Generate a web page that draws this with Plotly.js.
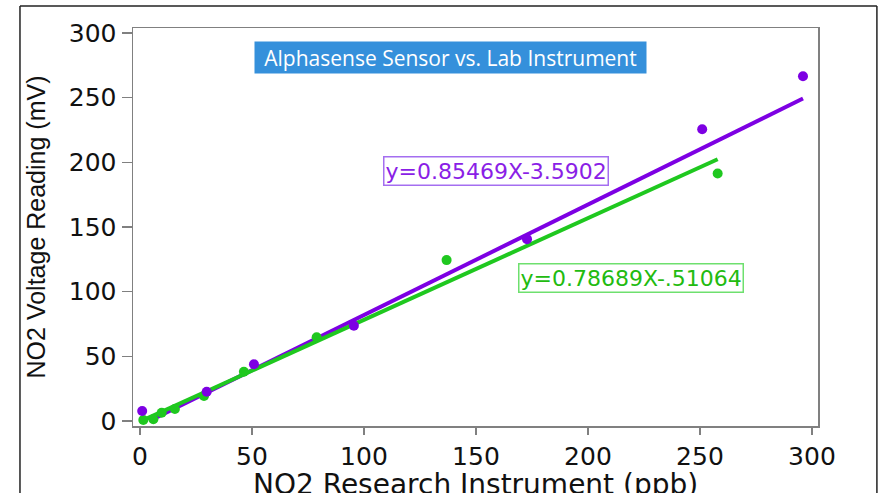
<!DOCTYPE html>
<html>
<head>
<meta charset="utf-8">
<script src="https://cdn.plot.ly/plotly-3.0.1.min.js"></script>
<style>html,body{margin:0;padding:0;background:#fff;}#chart{width:879px;height:493px;}</style>
</head>
<body>
<div id="chart"></div>
<script>
// Sensor data (x = research instrument ppb, y = sensor mV)
const purpleX = [1.0, 29.8, 50.9, 95.5, 172.8, 251.0, 296.0];
const purpleY = [7.7, 22.6, 43.8, 73.7, 140.6, 225.6, 266.6];
const greenX = [1.5, 6.0, 9.7, 15.6, 28.6, 46.4, 78.9, 136.9, 257.9];
const greenY = [0.8, 1.3, 6.4, 9.3, 19.3, 38.1, 64.7, 124.4, 191.4];

// Regression fits
const purpleSlope = 0.85469, purpleIntercept = -3.5902;
const greenSlope = 0.78689, greenIntercept = -0.51064;
const purpleFitX = [4.2, 296.0];
const greenFitX = [1.5, 257.9];

const titleText = 'Alphasense Sensor vs. Lab Instrument';
const xTitle = 'NO2 Research Instrument (ppb)';
const yTitle = 'NO2 Voltage Reading (mV)';
const purpleEq = 'y=0.85469X-3.5902';
const greenEq = 'y=0.78689X-.51064';
const xTicks = [0, 50, 100, 150, 200, 250, 300];
const yTicks = [0, 50, 100, 150, 200, 250, 300];

const PURPLE = '#7d00e3';
const GREEN = '#1fc81f';

const traces = [
  {x: purpleFitX, y: purpleFitX.map(v => purpleSlope * v + purpleIntercept), mode: 'lines',
   line: {color: PURPLE, width: 4}, hoverinfo: 'skip'},
  {x: greenFitX, y: greenFitX.map(v => greenSlope * v + greenIntercept), mode: 'lines',
   line: {color: GREEN, width: 4}, hoverinfo: 'skip'},
  {x: greenX, y: greenY, mode: 'markers', marker: {color: GREEN, size: 10}},
  {x: purpleX, y: purpleY, mode: 'markers', marker: {color: PURPLE, size: 10}}
];

const tickFont = {family: 'DejaVu Sans, Arial, sans-serif', size: 25, color: '#111'};
const layout = {
  width: 879, height: 493,
  margin: {l: 133, r: 61, t: 28, b: 67},
  paper_bgcolor: '#fff', plot_bgcolor: '#fff',
  showlegend: false,
  xaxis: {
    range: [-3.1, 302.7], tickvals: xTicks, ticktext: xTicks.map(String),
    showgrid: false, zeroline: false, showline: true, mirror: true,
    linecolor: '#808080', linewidth: 1.5,
    ticks: 'outside', ticklen: 7, tickcolor: '#808080', tickwidth: 1.5,
    tickfont: tickFont
  },
  yaxis: {
    range: [-3.9, 303.9], tickvals: yTicks, ticktext: yTicks.map(String),
    showgrid: false, zeroline: false, showline: true, mirror: true,
    linecolor: '#808080', linewidth: 1.5,
    ticks: 'outside', ticklen: 10, tickcolor: '#808080', tickwidth: 1.5,
    tickfont: tickFont,
    title: {text: yTitle, font: {family: 'Liberation Sans, Arial, sans-serif', size: 25, color: '#111'}, standoff: 16}
  },
  annotations: [
    {xref: 'paper', yref: 'paper', x: 0.5, y: -0.146, xanchor: 'center', yanchor: 'middle',
     text: xTitle, showarrow: false,
     font: {family: 'DejaVu Sans, Arial, sans-serif', size: 28, color: '#111'}},
    {xref: 'paper', yref: 'paper', x: 0.464, y: 0.927, xanchor: 'center', yanchor: 'middle',
     text: titleText, showarrow: false, bgcolor: '#3590db', width: 387, height: 27, borderpad: 2,
     font: {family: 'Open Sans, sans-serif', size: 21, color: '#ffffff'}},
    {xref: 'paper', yref: 'paper', x: 0.530, y: 0.640, xanchor: 'center', yanchor: 'middle',
     text: purpleEq, showarrow: false, bordercolor: '#a46ef0', borderwidth: 1.5, borderpad: 1,
     bgcolor: 'rgba(255,255,255,0)',
     font: {family: 'DejaVu Sans, Arial, sans-serif', size: 22, color: '#8a1ee6'}},
    {xref: 'paper', yref: 'paper', x: 0.727, y: 0.373, xanchor: 'center', yanchor: 'middle',
     text: greenEq, showarrow: false, bordercolor: '#6ee06e', borderwidth: 1.5, borderpad: 1,
     bgcolor: 'rgba(255,255,255,0)',
     font: {family: 'DejaVu Sans, Arial, sans-serif', size: 22, color: '#22bb10'}}
  ],
  shapes: [
    {type: 'line', xref: 'paper', yref: 'paper', x0: -0.165, x1: -0.165, y0: 1.0553, y1: -0.3,
     line: {color: '#222', width: 1.5}},
    {type: 'line', xref: 'paper', yref: 'paper', x0: -0.165, x1: 1.086, y0: 1.0553, y1: 1.0553,
     line: {color: '#222', width: 1.5}},
    {type: 'line', xref: 'paper', yref: 'paper', x0: 1.086, x1: 1.086, y0: 1.0553, y1: -0.3,
     line: {color: '#222', width: 1.5}}
  ]
};

Plotly.newPlot('chart', traces, layout, {displayModeBar: false, staticPlot: true});
</script>
</body>
</html>
